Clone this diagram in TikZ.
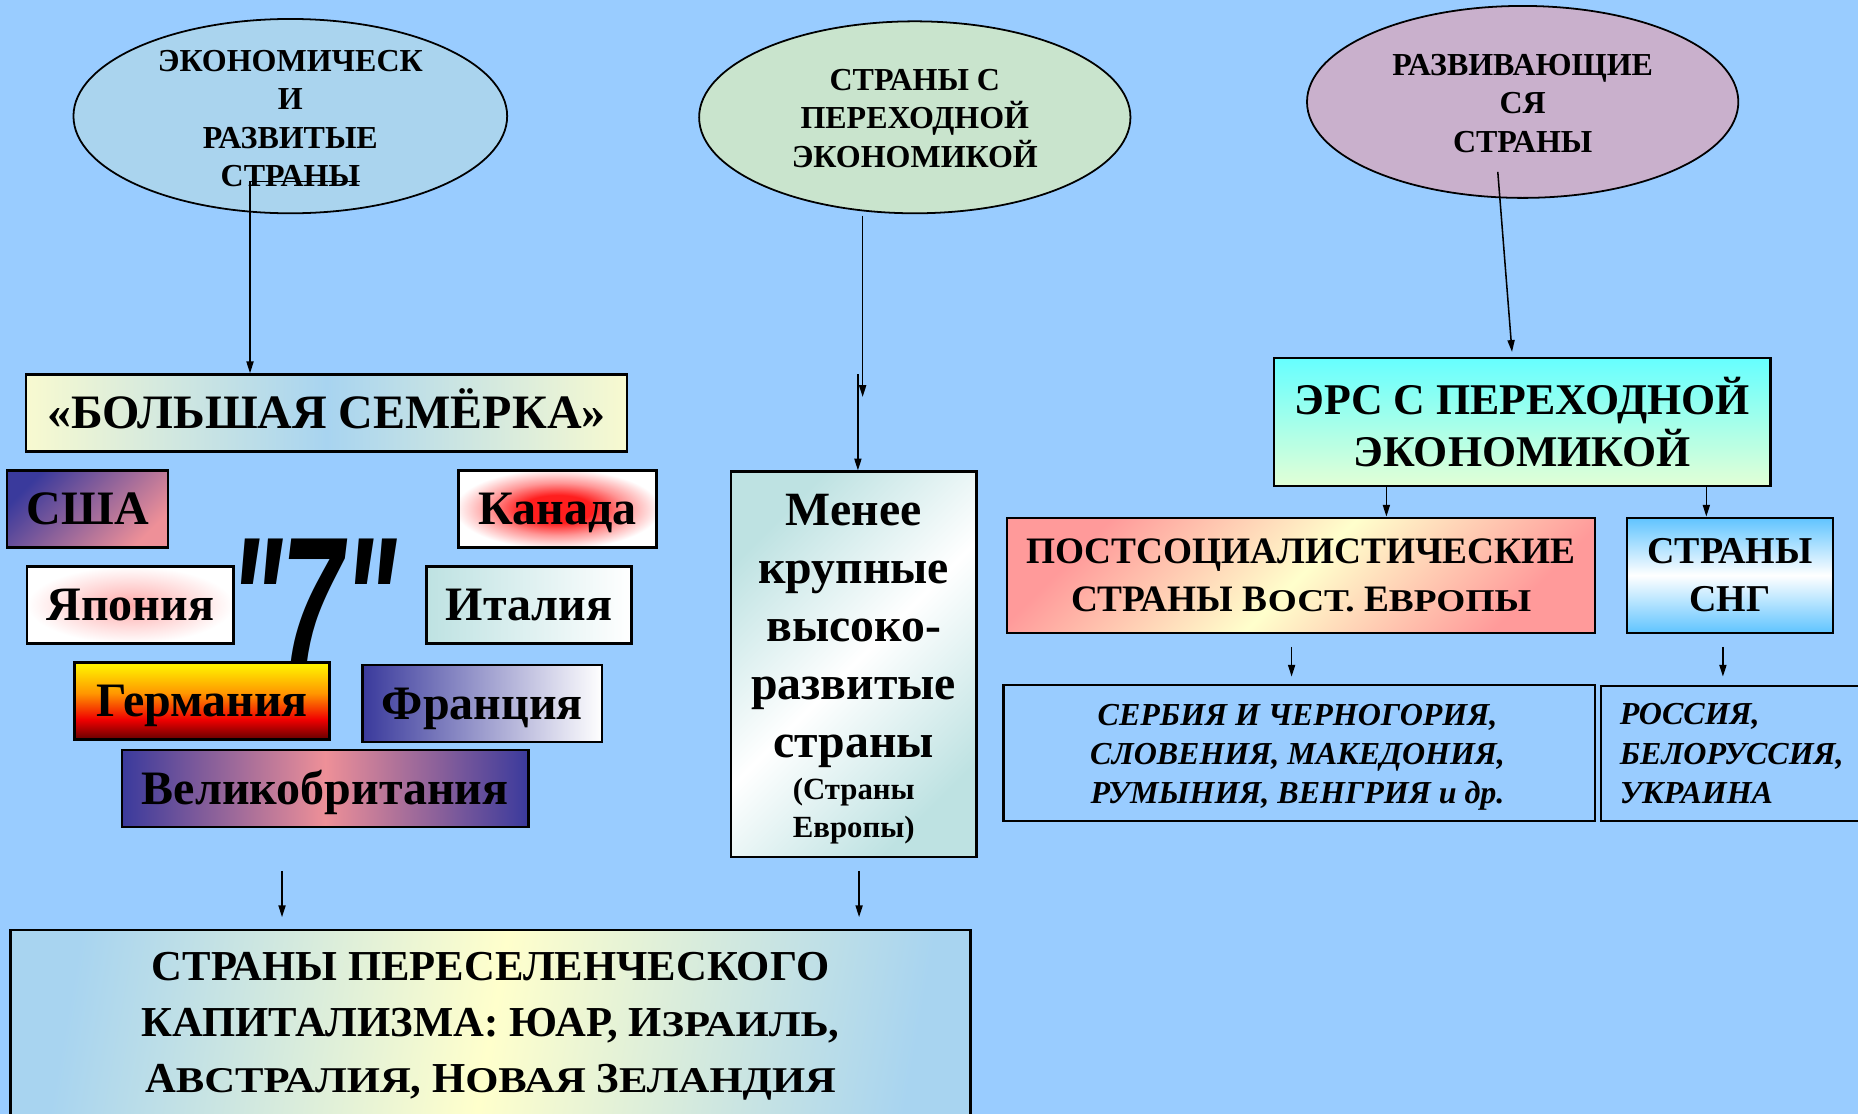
\documentclass[tikz,border=0pt]{standalone}
\usepackage{fontspec}
\setmainfont{Liberation Serif}
\newfontfamily\sevenfont{Liberation Sans}
\usetikzlibrary{shapes.geometric,arrows.meta}
\definecolor{bg}{RGB}{153,204,255}
\definecolor{ellA}{RGB}{170,212,238}
\definecolor{ellB}{RGB}{201,228,205}
\definecolor{ellC}{RGB}{201,176,204}
\definecolor{paleyel}{RGB}{248,250,208}
\definecolor{midblue}{RGB}{168,212,240}
\definecolor{dblue}{RGB}{58,58,156}
\definecolor{pinkc}{RGB}{238,144,152}
\definecolor{jpink}{RGB}{255,170,170}
\definecolor{tealc}{RGB}{190,226,226}
\definecolor{salmon}{RGB}{255,154,154}
\definecolor{lyel}{RGB}{255,255,204}
\definecolor{cyanc}{RGB}{102,255,255}
\definecolor{lgreen}{RGB}{226,255,214}
\definecolor{sky}{RGB}{96,196,255}
\definecolor{gdark}{RGB}{100,0,0}
\definecolor{gred}{RGB}{240,0,0}
\definecolor{gorange}{RGB}{255,150,0}
\definecolor{gyellow}{RGB}{255,240,0}
\definecolor{cred}{RGB}{255,30,30}
\definecolor{cpink}{RGB}{255,150,150}
\pgfdeclareradialshading{canshade}{\pgfpoint{0bp}{0bp}}{color(0bp)=(cred); color(9bp)=(cred); color(17bp)=(cpink); color(26bp)=(white); color(50bp)=(white)}
\pgfdeclareverticalshading{gershade}{100bp}{color(0bp)=(gdark); color(25bp)=(gdark); color(38bp)=(gred); color(55bp)=(gorange); color(73bp)=(gyellow); color(100bp)=(gyellow)}
\newcommand{\smc}[2]{#1\scalebox{1}[0.85]{#2}}
\begin{document}
\begin{tikzpicture}[x=1pt,y=-1pt,
  box/.style={draw=black,line width=2pt,rectangle,inner sep=0pt,align=center},
  ell/.style={draw=black,line width=1.5pt,ellipse,inner sep=0pt},
  etext/.style={align=center,font=\bfseries\fontsize{27}{32.5}\selectfont,inner sep=0pt},
  conn/.style={line width=1.3pt,-{Triangle[length=10pt,width=6pt]}},
  cty/.style={box,font=\bfseries\fontsize{40.5}{45}\selectfont,minimum height=65pt,text height=27pt,text depth=0pt}]
\fill[bg] (0,0) rectangle (1568,940);
\useasboundingbox (0,0) rectangle (1568,940);
\clip (0,0) rectangle (1568,940);
% ellipses
\node[ell,fill=ellA,minimum width=366pt,minimum height=164pt] (e1) at (245,98) {};
\node[etext] (t1) at (245,100) {ЭКОНОМИЧЕСК\\И\\РАЗВИТЫЕ\\СТРАНЫ};
\node[ell,fill=ellB,minimum width=364pt,minimum height=162pt] (e2) at (772,99) {};
\node[etext] (t2) at (772,100) {СТРАНЫ С\\ПЕРЕХОДНОЙ\\ЭКОНОМИКОЙ};
\node[ell,fill=ellC,minimum width=364pt,minimum height=162pt] (e3) at (1285,86) {};
\node[etext] (t3) at (1285,87) {РАЗВИВАЮЩИЕ\\СЯ\\СТРАНЫ};
% big seven
\node[anchor=base,inner sep=0pt,font=\sevenfont\bfseries\itshape\fontsize{154}{154}\selectfont] (seven) at (264,561) {\scalebox{0.61}[1]{"7"}};
% G7
\node[cty,minimum width=507pt,left color=paleyel,right color=paleyel,middle color=midblue] (sem) at (275.5,348.5) {«БОЛЬШАЯ СЕМЁРКА»};
\node[cty,minimum width=136pt,top color=dblue,bottom color=pinkc,shading angle=45] (usa) at (74,429.5) {США};
\node[cty,minimum width=167pt,shade,shading=canshade] (can) at (470.5,429.5) {Канада};
\node[cty,minimum width=174pt,inner color=jpink,outer color=white] (jap) at (110,510.5) {Япония};
\node[cty,minimum width=173pt,left color=tealc,right color=white] (ita) at (446.5,510.5) {Италия};
\node[cty,minimum width=215pt,shade,shading=gershade] (ger) at (170.5,591.5) {Германия};
\node[cty,minimum width=202pt,left color=dblue,right color=white] (fra) at (407,593.5) {Франция};
\node[cty,minimum width=343pt,left color=dblue,right color=dblue,middle color=pinkc] (gb) at (274.5,665.5) {Великобритания};
% smaller developed
\node[box,minimum width=207pt,minimum height=325pt,left color=tealc,right color=tealc,middle color=white,shading angle=45] (menee) at (720.5,560.5) {};
\node[text width=203pt,align=center,inner sep=0pt,font=\bfseries] (meneet) at (720.5,564.5) {{\fontsize{40.3}{49}\selectfont Менее\\крупные\\высоко-\\развитые\\страны\par}\vspace{3pt}{\fontsize{26}{32}\selectfont (Страны\\Европы)\par}};
% settler capitalism
\node[box,minimum width=810pt,minimum height=175pt,left color=midblue,right color=midblue,middle color=lyel,shading angle=80] (settl) at (414,872.5) {};
\node[align=center,font=\bfseries\fontsize{36}{47.5}\selectfont,inner sep=0pt] (settlt) at (414,866) {СТРАНЫ ПЕРЕСЕЛЕНЧЕСКОГО\\КАПИТАЛИЗМА: ЮАР, \smc{И}{ЗРАИЛЬ},\\\smc{А}{ВСТРАЛИЯ}, \smc{Н}{ОВАЯ} \smc{З}{ЕЛАНДИЯ}};
% right branch
\node[box,minimum width=419pt,minimum height=108pt,top color=cyanc,bottom color=lgreen,font=\bfseries\fontsize{37}{44}\selectfont] (ers) at (1284.5,356) {ЭРС С ПЕРЕХОДНОЙ\\ЭКОНОМИКОЙ};
\node[box,minimum width=496pt,minimum height=97pt,left color=salmon,right color=salmon,middle color=lyel,shading angle=45,font=\bfseries\fontsize{31.5}{41}\selectfont] (post) at (1098,485.5) {ПОСТСОЦИАЛИСТИЧЕСКИЕ\\СТРАНЫ \smc{В}{ОСТ.} \smc{Е}{ВРОПЫ}};
\node[box,minimum width=174pt,minimum height=97pt,top color=sky,bottom color=sky,middle color=white,font=\bfseries\fontsize{32}{41}\selectfont] (sng) at (1460,485.5) {СТРАНЫ\\СНГ};
\node[box,minimum width=499pt,minimum height=115pt,fill=bg] (serb) at (1096.5,635.5) {};
\node[align=center,inner sep=0pt,font=\bfseries\itshape\fontsize{27}{33}\selectfont] (serbt) at (1095,639) {СЕРБИЯ И ЧЕРНОГОРИЯ,\\СЛОВЕНИЯ, МАКЕДОНИЯ,\\РУМЫНИЯ, ВЕНГРИЯ и др.};
\node[box,minimum width=229pt,minimum height=114pt,text width=197pt,inner xsep=16pt,align=left,fill=bg,font=\bfseries\itshape\fontsize{27}{33}\selectfont] (ross) at (1465.5,636) {РОССИЯ,\\БЕЛОРУССИЯ,\\УКРАИНА};
% connectors
\coordinate (c1a) at (304,153); \coordinate (c1b) at (211,153);
\draw[conn] (c1a) -- (c1b) -- (c1b |- sem.north);
\coordinate (c2a) at (728,182); \coordinate (c2b) at (728,335);
\draw[conn] (c2a) -- (c2b);
\coordinate (c3a) at (724,316);
\draw[conn] (c3a) -- (c3a |- menee.north);
\coordinate (c4a) at (1264,145); \coordinate (c4b) at (1276,297);
\draw[conn] (c4a) -- (c4b);
\coordinate (c5) at (1170,0);
\draw[conn] (ers.south -| c5) -- (post.north -| c5);
\coordinate (c6) at (1440,0);
\draw[conn] (ers.south -| c6) -- (sng.north -| c6);
\coordinate (c7a) at (1090,546); \coordinate (c7b) at (1090,571);
\draw[conn] (c7a) -- (c7b);
\coordinate (c8a) at (1454,546); \coordinate (c8b) at (1454,571);
\draw[conn] (c8a) -- (c8b);
\coordinate (c9a) at (238,735); \coordinate (c9b) at (238,774);
\draw[conn] (c9a) -- (c9b);
\coordinate (c10a) at (725,735); \coordinate (c10b) at (725,774);
\draw[conn] (c10a) -- (c10b);
\end{tikzpicture}
\end{document}
